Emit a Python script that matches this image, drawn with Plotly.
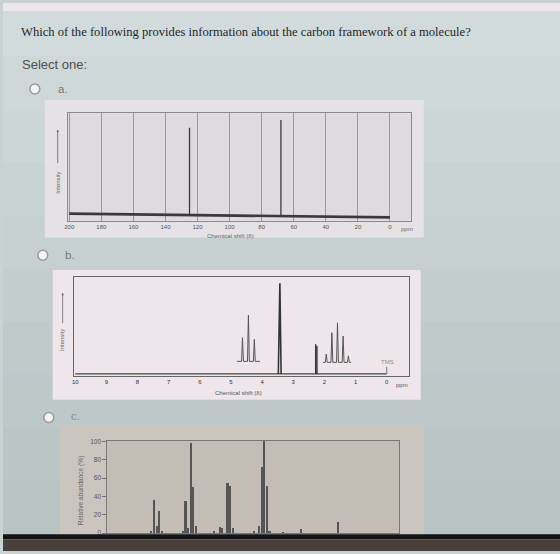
import plotly.graph_objects as go

W, H = 560, 554
def px(x): return x / W
def py(y): return 1 - y / H

# ---------------- data ----------------
# Panel a: 13C NMR spectrum
c13_ticks = [200, 180, 160, 140, 120, 100, 80, 60, 40, 20, 0]
c13_peak_ppm = [125, 68]
c13_peak_height = [0.868, 0.94]
c13_base_ppm = [200, 0]
c13_base_level = [0.065, 0.03]

# Panel b: 1H NMR spectrum
h1_ticks = [10, 9, 8, 7, 6, 5, 4, 3, 2, 1, 0]
h1_base_ppm = [10, 3.5, 3.36, 0]
h1_base_level = [0.017, 0.017, 0.017, 0.017]
h1_singlet_ppm = [3.43]
h1_singlet_height = [0.934]
h1_doublet_ppm = [2.28, 2.24]
h1_doublet_height = [0.317, 0.30]
h1_tms_ppm = [0]
h1_tms_height = [0.09]
h1_triplet_ppm = [4.63, 4.44, 4.25]
h1_triplet_height = [0.384, 0.61, 0.367]
h1_triplet_span = [4.81, 4.07]
h1_triplet_base = 0.144
h1_multi_ppm = [1.94, 1.76, 1.58, 1.40, 1.23]
h1_multi_height = [0.217, 0.434, 0.534, 0.40, 0.20]
h1_multi_span = [2.04, 1.14]
h1_multi_base = 0.134

# Panel c: mass spectrum
ms_mz = [14, 15, 16, 17, 18, 26, 27, 28, 29, 30, 31, 38, 40, 41, 43, 44, 45,
         53, 55, 56, 57, 58, 59, 64, 71, 85]
ms_abund = [2, 36, 7.5, 24, 2, 2, 35, 6, 98, 50, 7.5, 2, 7, 6, 55, 52, 6,
            2, 7.5, 72, 100, 51, 3, 1, 4.5, 12]
ms_yticks = [0, 20, 40, 60, 80, 100]

# ---------------- helpers ----------------
def sticks(xs, bases, tops):
    X, Y = [], []
    for x, b, t in zip(xs, bases, tops):
        X += [x, x, None]
        Y += [b, t, None]
    return X, Y

def multiplet(ppms, tops, span, base, w=0.03):
    X, Y = [span[0]], [base]
    for p, t in zip(ppms, tops):
        X += [p + w, p, p - w]
        Y += [base, t, base]
    X.append(span[1]); Y.append(base)
    return X, Y

fig = go.Figure()

# ---- panel a traces ----
fig.add_trace(go.Scatter(x=c13_base_ppm, y=c13_base_level, mode="lines",
                         line=dict(color="#3a3a3a", width=2.6), xaxis="x", yaxis="y",
                         hoverinfo="skip"))
base_at = [c13_base_level[0] + (c13_base_level[1] - c13_base_level[0]) * (200 - p) / 200
           for p in c13_peak_ppm]
X, Y = sticks(c13_peak_ppm, base_at, c13_peak_height)
fig.add_trace(go.Scatter(x=X, y=Y, mode="lines", line=dict(color="#3a3a3a", width=1.3),
                         xaxis="x", yaxis="y", hoverinfo="skip"))

# ---- panel b traces ----
fig.add_trace(go.Scatter(x=h1_base_ppm, y=h1_base_level, mode="lines",
                         line=dict(color="#444", width=1.2), xaxis="x2", yaxis="y2",
                         hoverinfo="skip"))
X, Y = [], []
for p, t in zip(h1_singlet_ppm, h1_singlet_height):
    X += [p + 0.05, p, p - 0.04, None]
    Y += [h1_base_level[0], t, h1_base_level[0], None]
fig.add_trace(go.Scatter(x=X, y=Y, mode="lines", line=dict(color="#333", width=1.6),
                         xaxis="x2", yaxis="y2", hoverinfo="skip"))
X, Y = sticks(h1_doublet_ppm, [h1_base_level[0]] * 2, h1_doublet_height)
fig.add_trace(go.Scatter(x=X, y=Y, mode="lines", line=dict(color="#333", width=1.4),
                         xaxis="x2", yaxis="y2", hoverinfo="skip"))
X, Y = sticks(h1_tms_ppm, [h1_base_level[0]], h1_tms_height)
fig.add_trace(go.Scatter(x=X, y=Y, mode="lines", line=dict(color="#777", width=1),
                         xaxis="x2", yaxis="y2", hoverinfo="skip"))
for ppms, tops, span, base in [(h1_triplet_ppm, h1_triplet_height, h1_triplet_span, h1_triplet_base),
                               (h1_multi_ppm, h1_multi_height, h1_multi_span, h1_multi_base)]:
    X, Y = multiplet(ppms, tops, span, base)
    fig.add_trace(go.Scatter(x=X, y=Y, mode="lines", line=dict(color="#555", width=1),
                             xaxis="x2", yaxis="y2", hoverinfo="skip"))

# ---- panel c trace ----
fig.add_trace(go.Bar(x=ms_mz, y=ms_abund, width=0.6, marker=dict(color="#555", line=dict(width=0)),
                     xaxis="x3", yaxis="y3", hoverinfo="skip"))

tickfont = dict(family="Liberation Sans", size=6, color="#555")

fig.update_layout(
    width=W, height=H, margin=dict(l=0, r=0, t=0, b=0),
    paper_bgcolor="#c8d2d3", plot_bgcolor="rgba(0,0,0,0)", showlegend=False,
    bargap=0,
    xaxis=dict(domain=[px(65), px(410)], anchor="y", range=[201, -13],
               tickvals=c13_ticks, ticktext=[str(t) for t in c13_ticks],
               showgrid=True, gridcolor="#9a9a9a", gridwidth=1, zeroline=False,
               showline=True, mirror=True, linecolor="#8a8a8a", linewidth=1,
               ticks="", tickfont=tickfont, fixedrange=True),
    yaxis=dict(domain=[py(220), py(111.7)], anchor="x", range=[0, 1],
               showgrid=False, zeroline=False, showticklabels=False,
               showline=True, mirror=True, linecolor="#8a8a8a", linewidth=1),
    xaxis2=dict(domain=[px(71.7), px(408)], anchor="y2", range=[10.03, -0.71],
                tickvals=h1_ticks, ticktext=[str(t) for t in h1_ticks],
                showgrid=False, zeroline=False,
                showline=True, mirror=True, linecolor="#666", linewidth=1.2,
                ticks="", tickfont=dict(family="Liberation Sans", size=6, color="#333")),
    yaxis2=dict(domain=[py(376.7), py(276.7)], anchor="x2", range=[0, 1],
                showgrid=False, zeroline=False, showticklabels=False,
                showline=True, mirror=True, linecolor="#666", linewidth=1.2),
    xaxis3=dict(domain=[px(105), px(398)], anchor="y3", range=[-3, 108],
                showgrid=False, zeroline=False, showticklabels=False,
                showline=True, mirror=True, linecolor="#777", linewidth=1.2, ticks=""),
    yaxis3=dict(domain=[py(536), py(442.7)], anchor="x3", range=[0, 100.5],
                tickvals=ms_yticks, showgrid=False, zeroline=False,
                showline=True, mirror=True, linecolor="#777", linewidth=1.2,
                ticks="outside", ticklen=4, tickcolor="#777",
                tickfont=dict(family="Liberation Sans", size=6.5, color="#555")),
)

def rect(x0, y0, x1, y1, color, layer="below", line=None):
    return dict(type="rect", xref="paper", yref="paper",
                x0=px(x0), x1=px(x1), y0=py(y1), y1=py(y0),
                fillcolor=color, line=line or dict(width=0), layer=layer)

# soft vertical shading of the photographed screen background
bg_steps = ["#d2dbdc", "#cfd8d9", "#ccd6d7", "#c9d3d4", "#c6d0d1", "#c3cdce",
            "#c0cacb", "#bdc8c9", "#bac5c6", "#b8c3c4"]
shapes = []
band = 537 / len(bg_steps)
for i, c in enumerate(bg_steps):
    shapes.append(rect(0, i * band, 560, (i + 1) * band + 1, c))
shapes += [
    rect(0, 0, 560, 8, "#ece8e9"),
    # panel boxes
    rect(42, 98, 423, 237, "#e5e2e5"),
    rect(65, 111.7, 410, 220, "#dedbdf"),
    rect(50, 270, 420, 401, "#eee6eb"),
    rect(57, 427, 423, 537, "#cbc5bf"),
    rect(105, 442.7, 398, 536, "#c3bdb6"),
    # bottom bezel
    rect(0, 537, 560, 542.5, "#141414", layer="above"),
    rect(0, 542.5, 560, 554, "#4a403b", layer="above"),
]
for cx, cy in [(32, 87), (40, 255), (46, 419)]:
    shapes.append(dict(type="circle", xref="paper", yref="paper",
                       x0=px(cx - 5), x1=px(cx + 5), y0=py(cy + 5), y1=py(cy - 5),
                       fillcolor="#f3f3f3", line=dict(color="#9a9a9a", width=1.5)))
fig.update_layout(shapes=shapes)

ann = []
def text(x, y, s, size, color="#444", family="Liberation Sans", xanchor="left",
         yanchor="middle", angle=0):
    ann.append(dict(x=px(x), y=py(y), xref="paper", yref="paper", text=s, showarrow=False,
                    xanchor=xanchor, yanchor=yanchor, textangle=angle,
                    font=dict(family=family, size=size, color=color)))

text(16, 29, "Which of the following provides information about the carbon framework of a molecule?",
     12.6, "#262626", "Liberation Serif")
text(17, 62, "Select one:", 13, "#505050")
text(53, 87, "a.", 11.5, "#777")
text(60, 255, "b.", 11.5, "#777")
text(66, 418, "c.", 11.5, "#888")
text(229, 236, "Chemical shift (δ)", 6, "#666", xanchor="center")
text(398, 228, "ppm", 6, "#666")
text(237, 394.5, "Chemical shift (δ)", 6, "#555", xanchor="center")
text(393, 386, "ppm", 6, "#555")
text(387, 363, "TMS", 6, "#888", xanchor="center")
text(55, 182, "Intensity", 6, "#666", xanchor="center", angle=-90)
text(60, 341, "Intensity", 6, "#666", xanchor="center", angle=-90)
text(78, 493, "Relative abundance (%)", 6.5, "#666", xanchor="center", angle=-90)

for (x, ytop, ybot) in [(55, 128, 163), (60, 293, 325)]:
    ann.append(dict(x=px(x), y=py(ytop), xref="paper", yref="paper", text="",
                    showarrow=True, ax=0, ay=ybot - ytop, axref="pixel", ayref="pixel",
                    arrowhead=2, arrowsize=0.6, arrowwidth=0.8, arrowcolor="#666"))

fig.update_layout(annotations=ann)
fig.write_html("out.html")
